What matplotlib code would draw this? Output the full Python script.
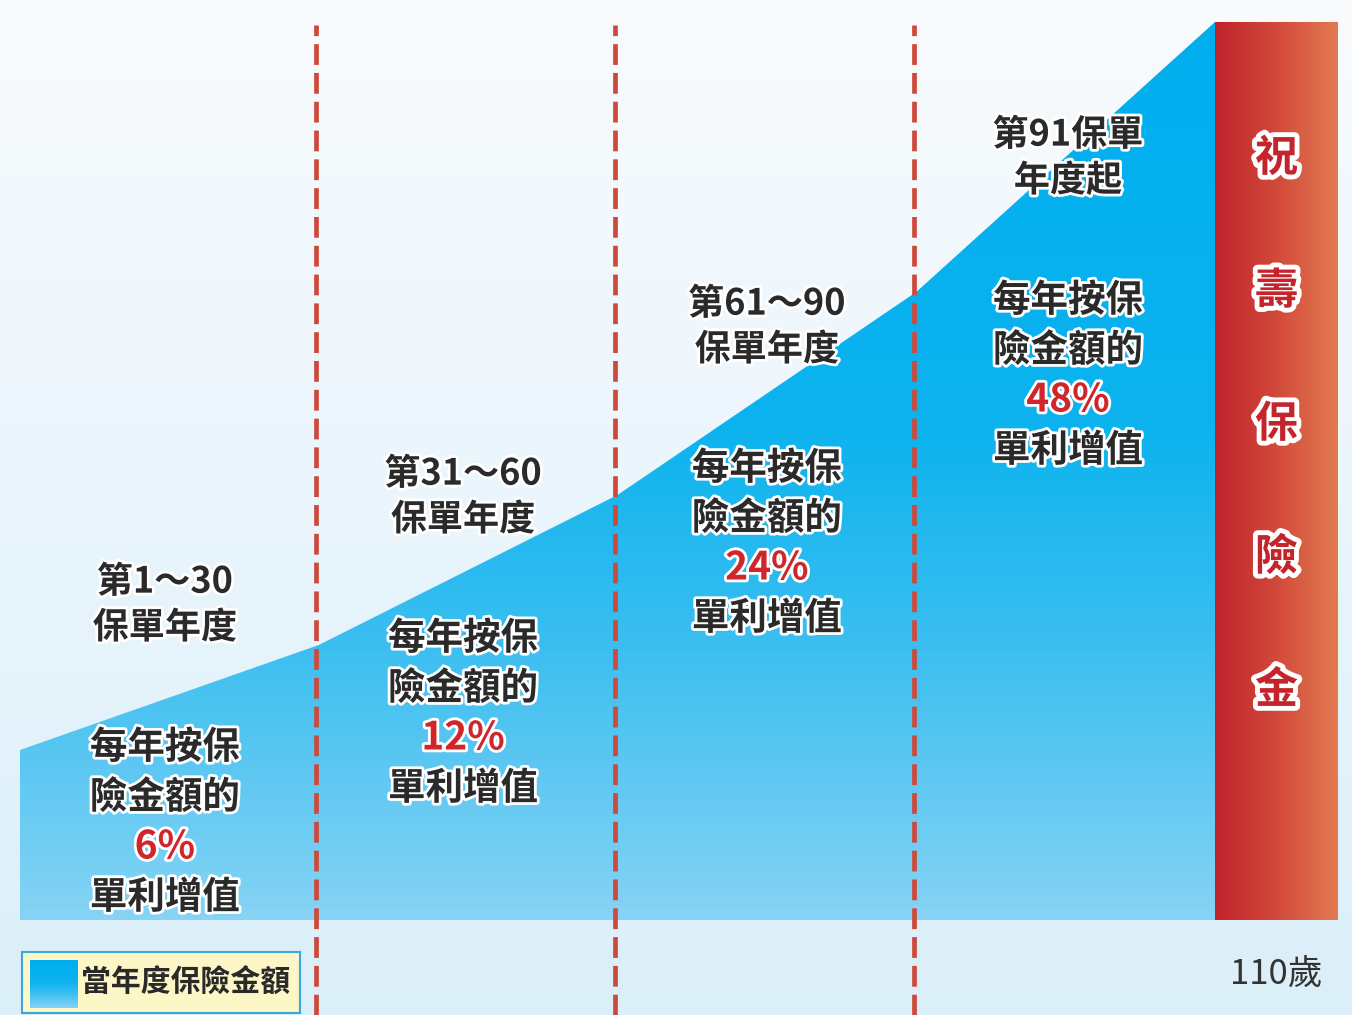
import numpy as np
import matplotlib
matplotlib.use("Agg")
import matplotlib.pyplot as plt
import matplotlib.patheffects as pe
from matplotlib.colors import LinearSegmentedColormap
from matplotlib.patches import Rectangle

plt.rcParams['font.family'] = ['Noto Sans CJK TC', 'DejaVu Sans']

# ---------------- 資料 ----------------
stages = [0, 1, 2, 3, 4]                 # 保單年度分段 (0, 30, 60, 90, 110)
amount = [170, 275, 425, 628, 898]       # 當年度保險金額 (相對高度)
period_labels = ["第1～30\n保單年度", "第31～60\n保單年度", "第61～90\n保單年度", "第91保單\n年度起"]
rates = ["6%", "12%", "24%", "48%"]
bar_chars = ["祝", "壽", "保", "險", "金"]
legend_label = "當年度保險金額"
age_label = "110歲"

# ---------------- 版面 ----------------
W, H = 1352, 1015
px = 298.75                 # 每段寬度 (像素)
x0_px = 20
base_px = 920
xlim = (-x0_px / px, (W - x0_px) / px)
ylim = (-(H - base_px), base_px)

fig = plt.figure(figsize=(W / 100, H / 100), dpi=100)
ax = fig.add_axes([0, 0, 1, 1])
ax.set_xlim(*xlim)
ax.set_ylim(*ylim)
ax.axis('off')

# 背景漸層
bg = LinearSegmentedColormap.from_list("bg", ["#dbeff9", "#eaf5fc", "#f9fbfd"])
grad = np.linspace(0, 1, 256).reshape(-1, 1)
ax.imshow(grad, cmap=bg, origin='lower', aspect='auto',
          extent=[xlim[0], xlim[1], ylim[0], ylim[1]], zorder=0)

# 面積漸層
area_cmap = LinearSegmentedColormap.from_list(
    "area", [(0, "#86d3f5"), (0.3, "#3cbff0"), (0.55, "#0cb3ee"), (1, "#00aeef")])
poly = ax.fill_between(stages, 0, amount, color='none', zorder=1)
img = ax.imshow(grad, cmap=area_cmap, origin='lower', aspect='auto',
                extent=[stages[0], stages[-1], 0, max(amount)], zorder=1)
img.set_clip_path(poly.get_paths()[0], transform=ax.transData)

# 右側紅色柱
bar_w = (1338 - x0_px) / px - stages[-1]
red_cmap = LinearSegmentedColormap.from_list("red", ["#c0222c", "#d2493a", "#e27b52"])
ax.imshow(np.linspace(0, 1, 256).reshape(1, -1), cmap=red_cmap, aspect='auto',
          extent=[stages[-1], stages[-1] + bar_w, 0, amount[-1]], zorder=2)
bar_cx = stages[-1] + bar_w / 2
for i, ch in enumerate(bar_chars):
    ax.text(bar_cx, base_px - (158 + i * 133), ch, ha='center', va='center',
            fontsize=31, fontweight='bold', color='#c4242b', zorder=5,
            path_effects=[pe.withStroke(linewidth=7, foreground='white')])

# 虛線分隔
for s in stages[1:4]:
    ax.plot([s - 0.008, s - 0.008], [ylim[0], base_px - 25], color='#cc4a3c', lw=3.4,
            linestyle=(0, (4.4, 1.7)), zorder=3)

# 文字
outline = [pe.withStroke(linewidth=4, foreground='white')]
col_off = [0.485, 0.483, 0.5, 0.508]
top_y = [580, 472, 302, 133]
desc_y = [747, 638, 468, 300]
for i in range(4):
    cx = stages[i] + col_off[i]
    ax.text(cx, base_px - top_y[i] - 25, period_labels[i], ha='center', va='center',
            fontsize=26, fontweight='bold', color='#2a2a2a', linespacing=1.3,
            zorder=5, path_effects=outline)
    lines = ["每年按保", "險金額的", rates[i], "單利增值"]
    for j, ln in enumerate(lines):
        red = (j == 2)
        ax.text(cx, base_px - (desc_y[i] + 50 * j), ln, ha='center', va='center',
                fontsize=27 if not red else 28, fontweight='bold',
                color='#d0262b' if red else '#2a2a2a', zorder=5, path_effects=outline)

# 圖例
lx0, lx1 = 22 / px + xlim[0], 300 / px + xlim[0]
ax.add_patch(Rectangle((lx0, base_px - 1013), lx1 - lx0, 61, facecolor='#fdf6c6',
                       edgecolor='#3aa8e0', lw=1.5, zorder=4))
sw = ax.imshow(grad, cmap=area_cmap, origin='lower', aspect='auto',
               extent=[30 / px + xlim[0], 78 / px + xlim[0], base_px - 1008, base_px - 960], zorder=5)
ax.text(81 / px + xlim[0], base_px - 983, legend_label, ha='left', va='center',
        fontsize=21.5, fontweight='bold', color='#2a2a2a', zorder=6)

ax.text(bar_cx, base_px - 975, age_label, ha='center', va='center',
        fontsize=25, color='#333333', zorder=5)

fig.savefig("out.png", dpi=100)
